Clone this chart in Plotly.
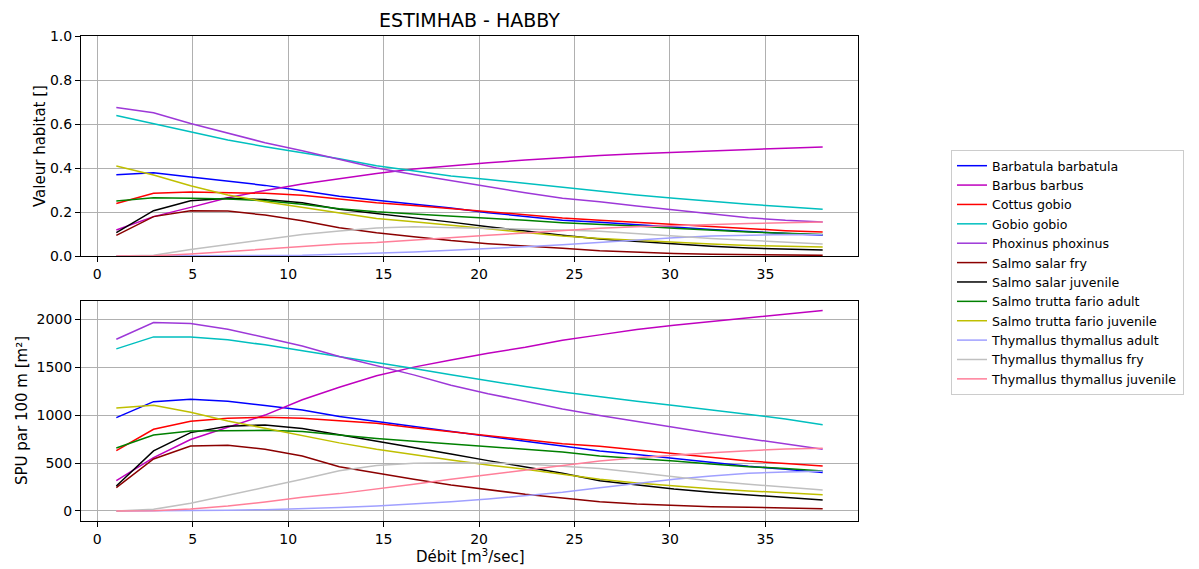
import plotly.graph_objects as go

# ---------------- data ----------------
debit = [1.0, 2.95, 4.89, 6.84, 8.79, 10.74, 12.68, 14.63, 16.58, 18.53,
         20.47, 22.42, 24.37, 26.32, 28.26, 30.21, 32.16, 34.11, 36.05, 38.0]

species = ["Barbatula barbatula", "Barbus barbus", "Cottus gobio", "Gobio gobio",
           "Phoxinus phoxinus", "Salmo salar fry", "Salmo salar juvenile",
           "Salmo trutta fario adult", "Salmo trutta fario juvenile",
           "Thymallus thymallus adult", "Thymallus thymallus fry",
           "Thymallus thymallus juvenile"]

colors = ["#0000ff", "#bf00bf", "#ff0000", "#00bfbf", "#9d38d8", "#8b0000",
          "#000000", "#008000", "#bfbf00", "#a0a0ff", "#c0c0c0", "#ff7f99"]

vh_barbatula = [0.369,0.378,0.359,0.341,0.321,0.297,0.272,0.253,0.236,0.218,0.197,0.179,0.163,0.153,0.141,0.130,0.120,0.111,0.101,0.094]
vh_barbus = [0.118,0.179,0.221,0.265,0.298,0.327,0.351,0.375,0.395,0.411,0.424,0.436,0.447,0.457,0.465,0.472,0.479,0.485,0.490,0.495]
vh_cottus = [0.239,0.285,0.291,0.289,0.285,0.276,0.260,0.242,0.230,0.216,0.200,0.185,0.173,0.163,0.153,0.142,0.132,0.123,0.115,0.109]
vh_gobio = [0.639,0.602,0.562,0.527,0.497,0.469,0.442,0.410,0.386,0.364,0.348,0.330,0.312,0.294,0.277,0.262,0.247,0.235,0.224,0.213]
vh_phoxinus = [0.675,0.651,0.602,0.557,0.515,0.478,0.440,0.400,0.370,0.342,0.315,0.287,0.263,0.247,0.227,0.209,0.191,0.174,0.162,0.154]
vh_salar_fry = [0.094,0.179,0.206,0.204,0.186,0.160,0.128,0.106,0.088,0.070,0.056,0.044,0.035,0.024,0.017,0.011,0.008,0.006,0.005,0.003]
vh_salar_juv = [0.106,0.206,0.251,0.262,0.257,0.242,0.213,0.194,0.174,0.154,0.133,0.112,0.094,0.077,0.065,0.054,0.044,0.036,0.032,0.027]
vh_trutta_adult = [0.250,0.265,0.262,0.259,0.251,0.235,0.215,0.201,0.191,0.182,0.173,0.162,0.151,0.145,0.136,0.126,0.117,0.109,0.103,0.098]
vh_trutta_juv = [0.409,0.368,0.319,0.277,0.247,0.221,0.194,0.171,0.156,0.141,0.124,0.107,0.091,0.079,0.070,0.061,0.054,0.048,0.044,0.041]
vh_thym_adult = [0.000,0.000,0.000,0.001,0.002,0.003,0.008,0.012,0.018,0.026,0.033,0.042,0.051,0.062,0.073,0.083,0.091,0.095,0.098,0.097]
vh_thym_fry = [0.000,0.003,0.030,0.053,0.076,0.098,0.114,0.127,0.133,0.130,0.127,0.123,0.118,0.112,0.100,0.091,0.080,0.071,0.062,0.054]
vh_thym_juv = [0.000,0.001,0.009,0.021,0.033,0.045,0.054,0.061,0.071,0.083,0.094,0.105,0.116,0.126,0.133,0.139,0.144,0.148,0.151,0.154]

spu_barbatula = [973,1140,1165,1144,1099,1054,985,932,880,828,775,727,678,626,588,546,504,466,435,400]
spu_barbus = [316,556,745,870,1000,1160,1290,1410,1500,1575,1645,1707,1780,1836,1891,1937,1975,2015,2055,2090]
spu_cottus = [629,852,935,967,977,967,942,914,869,828,782,741,702,675,636,595,556,522,494,469]
spu_gobio = [1690,1815,1815,1784,1732,1672,1610,1547,1485,1420,1355,1297,1241,1190,1145,1100,1055,1008,960,900]
spu_phoxinus = [1791,1964,1954,1895,1808,1721,1610,1513,1419,1310,1222,1145,1063,995,932,869,810,754,699,643]
spu_salar_fry = [243,542,678,685,643,574,462,393,330,271,219,174,136,97,73,56,45,38,31,24]
spu_salar_juv = [261,626,817,883,897,860,795,730,661,595,525,462,393,316,271,229,195,167,143,115]
spu_trutta_adult = [657,793,834,841,841,828,790,755,727,699,671,643,615,574,549,522,490,462,442,417]
spu_trutta_juv = [1074,1102,1029,939,862,785,710,643,584,532,480,435,382,330,292,261,233,209,191,170]
spu_thym_adult = [0,0,3,7,14,24,35,52,73,97,125,160,195,243,289,330,365,393,407,414]
spu_thym_fry = [0,17,80,160,247,330,420,473,497,504,501,490,469,442,400,355,313,278,247,219]
spu_thym_juv = [0,3,21,52,94,143,181,228,278,330,379,428,473,522,556,584,608,629,647,654]

vh_series = [vh_barbatula, vh_barbus, vh_cottus, vh_gobio, vh_phoxinus, vh_salar_fry,
             vh_salar_juv, vh_trutta_adult, vh_trutta_juv, vh_thym_adult, vh_thym_fry, vh_thym_juv]
spu_series = [spu_barbatula, spu_barbus, spu_cottus, spu_gobio, spu_phoxinus, spu_salar_fry,
              spu_salar_juv, spu_trutta_adult, spu_trutta_juv, spu_thym_adult, spu_thym_fry, spu_thym_juv]

# ---------------- figure ----------------
FONT = "DejaVu Sans"
fig = go.Figure()

for name, col, vh in zip(species, colors, vh_series):
    fig.add_trace(go.Scatter(x=debit, y=vh, mode="lines", name=name,
                             line=dict(color=col, width=1.5),
                             xaxis="x", yaxis="y", showlegend=True))
for name, col, spu in zip(species, colors, spu_series):
    fig.add_trace(go.Scatter(x=debit, y=spu, mode="lines", name=name,
                             line=dict(color=col, width=1.5),
                             xaxis="x2", yaxis="y2", showlegend=False))

axis_common = dict(showline=True, linecolor="black", linewidth=1, mirror=True,
                   showgrid=True, gridcolor="#b0b0b0", gridwidth=1,
                   zeroline=False, ticks="outside", ticklen=5, tickcolor="black",
                   automargin=False,
                   tickfont=dict(family=FONT, size=14, color="black"))

W, H = 1199, 569
ml, mr, mt, mb = 81, W - 858, 36, 48
ph = H - mt - mb

fig.update_layout(
    width=W, height=H,
    margin=dict(l=ml, r=mr, t=mt, b=mb, autoexpand=False),
    paper_bgcolor="white", plot_bgcolor="white",
    font=dict(family=FONT, size=14, color="black"),
    title=dict(text="ESTIMHAB - HABBY", x=0.5, xref="paper", xanchor="center",
               y=1 - 20 / H, yref="container", yanchor="middle",
               font=dict(family=FONT, size=19, color="black")),
    xaxis=dict(axis_common, range=[-0.85, 39.85], tick0=0, dtick=5, anchor="y",
               domain=[0, 1]),
    yaxis=dict(axis_common, range=[0, 1], dtick=0.2, tickformat=".1f", anchor="x",
               domain=[(H - mb - 256) / ph, 1]),
    xaxis2=dict(axis_common, range=[-0.85, 39.85], tick0=0, dtick=5, anchor="y2",
                domain=[0, 1]),
    yaxis2=dict(axis_common, range=[-104.5, 2194.5], tick0=0, dtick=500, tickformat="d",
                anchor="x2", domain=[0, (H - mb - 300.5) / ph]),
    legend=dict(x=(951 - ml) / (858 - ml), xanchor="left", y=(H - mb - 272.5) / ph,
                yanchor="middle", xref="paper", yref="paper",
                bgcolor="white", bordercolor="#cccccc", borderwidth=1,
                font=dict(family=FONT, size=12.6, color="black"),
                tracegroupgap=0),
    annotations=[
        dict(text="Valeur habitat []", x=(40 - ml) / (858 - ml), y=(H - mb - 146) / ph,
             xref="paper", yref="paper", textangle=-90, showarrow=False,
             xanchor="center", yanchor="middle", font=dict(family=FONT, size=15)),
        dict(text="SPU par 100 m [m²]", x=(22 - ml) / (858 - ml), y=(H - mb - 410) / ph,
             xref="paper", yref="paper", textangle=-90, showarrow=False,
             xanchor="center", yanchor="middle", font=dict(family=FONT, size=15)),
        dict(text="Débit [m<sup>3</sup>/sec]", x=0.5, y=(H - mb - 556) / ph,
             xref="paper", yref="paper", showarrow=False,
             xanchor="center", yanchor="middle", font=dict(family=FONT, size=15)),
    ],
)

post = ("document.body.style.margin='0px';document.body.style.padding='0px';"
        "document.body.style.overflow='hidden';"
        "document.documentElement.style.overflow='hidden';")
fig.write_html("out.html", post_script=post, config={"displayModeBar": False})
